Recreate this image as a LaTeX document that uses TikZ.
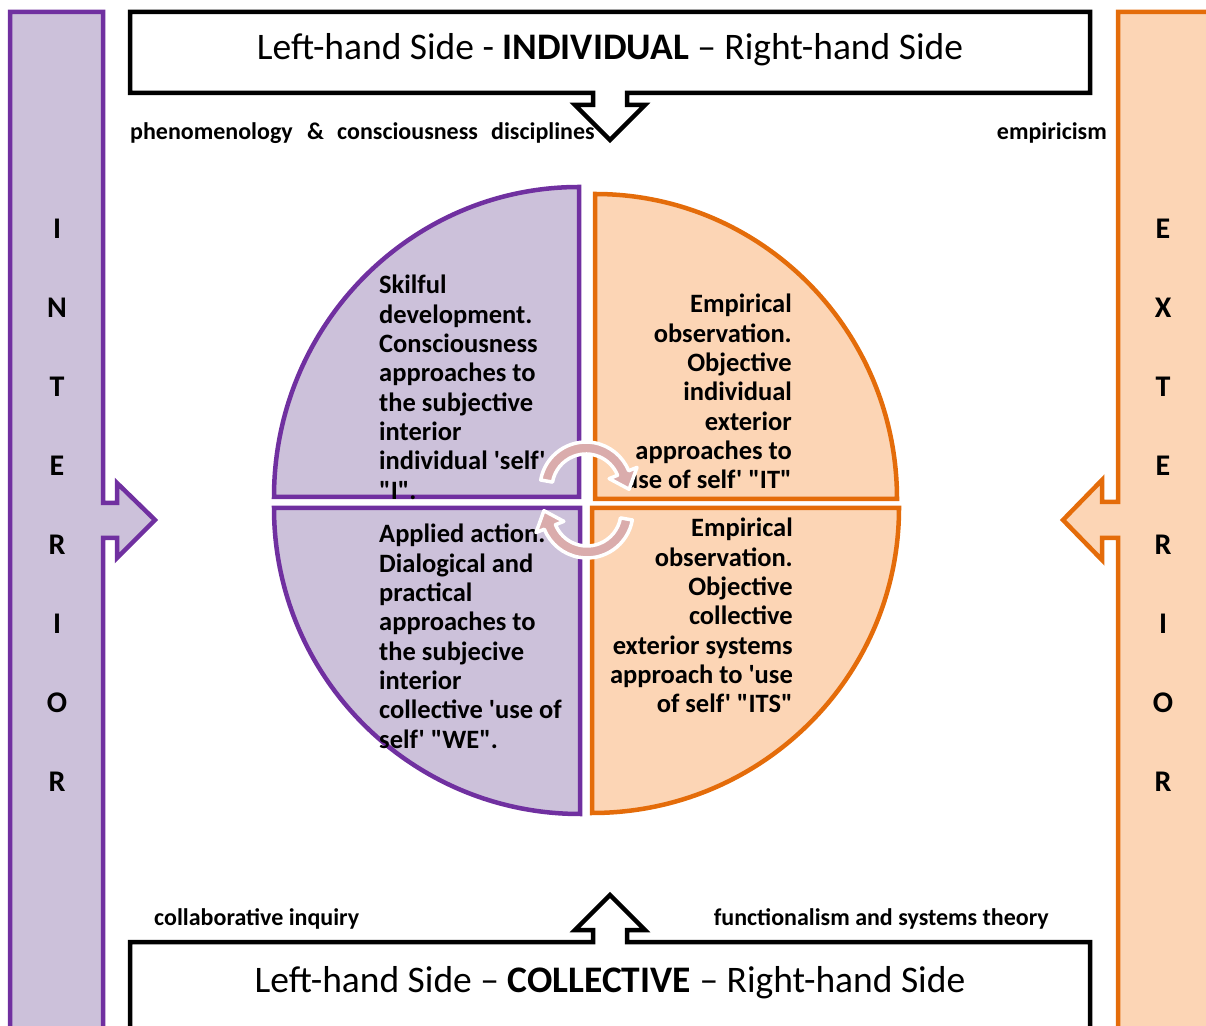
\documentclass[tikz,border=0pt]{standalone}
\usepackage{fontspec}
\newfontfamily\carl{Carlito}
\definecolor{pstroke}{HTML}{7030A0}
\definecolor{pfill}{HTML}{CCC1DA}
\definecolor{ostroke}{HTML}{E46C0A}
\definecolor{ofill}{HTML}{FCD5B5}
\definecolor{cyc}{RGB}{218,172,172}
\begin{document}
\begin{tikzpicture}[x=1pt,y=1pt,line join=miter,
  ishape/.style={draw=pstroke,fill=pfill,line width=4.5pt},
  eshape/.style={draw=ostroke,fill=ofill,line width=4.5pt},
  bbox/.style={draw=black,fill=white,line width=4.5pt},
  cycarrow/.style={fill=cyc,draw=white,line width=3.5pt,line join=round},
  qtext/.style={font=\carl\bfseries\fontsize{26.5}{29.3}\selectfont,inner sep=0pt},
  sideletter/.style={font=\carl\bfseries\fontsize{30}{36}\selectfont,inner sep=0pt},
  titletext/.style={font=\carl\fontsize{37.5}{44}\selectfont,inner sep=0pt},
  lbl/.style={font=\carl\bfseries\fontsize{24}{28}\selectfont,inner sep=0pt}]
\useasboundingbox (0,0) rectangle (1206,1025);
% side bars with arrows
\draw[ishape] (10,-20) -- (10,1013) -- (103,1013) -- (103,522) -- (117,522) -- (117,542) -- (155,505) -- (117,467) -- (117,487) -- (103,487) -- (103,-20) -- cycle;
\draw[eshape] (1118,-20) -- (1118,487) -- (1102,487) -- (1102,465) -- (1063,505) -- (1102,545) -- (1102,523) -- (1118,523) -- (1118,1013) -- (1230,1013) -- (1230,-20) -- cycle;
% top and bottom boxes with arrows
\draw[bbox] (130,1013) -- (1090,1013) -- (1090,932) -- (627,932) -- (627,920) -- (645,920) -- (610,885) -- (575,920) -- (593,920) -- (593,932) -- (130,932) -- cycle;
\draw[bbox] (130,-20) -- (130,83) -- (593,83) -- (593,95) -- (575,95) -- (610,130) -- (645,95) -- (627,95) -- (627,83) -- (1090,83) -- (1090,-20) -- cycle;
% titles
\node[titletext,anchor=base] (toptitle) at (610,965) {Left-hand Side - \textbf{INDIVIDUAL} – Right-hand Side};
\node[titletext,anchor=base] (bottitle) at (610,33) {Left-hand Side – \textbf{COLLECTIVE} – Right-hand Side};
% side letters
\foreach \L [count=\i] in {I,N,T,E,R,I,O,R}
  \node[sideletter] (il\i) at (57,{875-79*\i}) {\L};
\foreach \L [count=\i] in {E,X,T,E,R,I,O,R}
  \node[sideletter] (el\i) at (1163,{875-79*\i}) {\L};
% quadrants
\draw[ishape] (579,528) -- (579,838) arc[start angle=90,end angle=180,x radius=305,y radius=310] -- cycle;
\draw[eshape] (595,526) -- (595,831) arc[start angle=90,end angle=0,x radius=302,y radius=305] -- cycle;
\draw[ishape] (580,517) -- (580,211) arc[start angle=270,end angle=180,x radius=306,y radius=306] -- cycle;
\draw[eshape] (592,517) -- (592,212) arc[start angle=270,end angle=360,x radius=307,y radius=305] -- cycle;
% quadrant texts
\node[qtext,anchor=base west] (tltext) at (379,731) {\parbox[t]{230pt}{\raggedright Skilful\\development.\\Consciousness\\approaches to\\the subjective\\interior\\individual 'self'\\"I".}};
\node[qtext,anchor=base east] (trtext) at (792,712) {\parbox[t]{230pt}{\raggedleft Empirical\\observation.\\Objective\\individual\\exterior\\approaches to\\'use of self' "IT"}};
\node[qtext,anchor=base west] (bltext) at (379,482) {\parbox[t]{230pt}{\raggedright Applied action.\\Dialogical and\\practical\\approaches to\\the subjecive\\interior\\collective 'use of\\self' "WE".}};
\node[qtext,anchor=base east] (brtext) at (793,488) {\parbox[t]{230pt}{\raggedleft Empirical\\observation.\\Objective\\collective\\exterior systems\\approach to 'use\\of self' "ITS"}};
% circular arrows
\begin{scope}[shift={(586,537)}]
\draw[cycarrow] (170:46) arc[start angle=170,end angle=22,radius=46] -- (22:55) -- (43.1,-1.3) -- (22:25) -- (22:34) arc[start angle=22,end angle=170,radius=34] -- cycle;
\end{scope}
\begin{scope}[shift={(587,513)}]
\draw[cycarrow] (-10:46) arc[start angle=-10,end angle=-158,radius=46] -- (-158:55) -- (-43.1,1.3) -- (-158:25) -- (-158:34) arc[start angle=-158,end angle=-10,radius=34] -- cycle;
\end{scope}
% labels
\node[lbl,anchor=base west] (lphen) at (130,885) {phenomenology};
\node[lbl,anchor=base west] (lamp) at (307,885) {\&};
\node[lbl,anchor=base west] (lcons) at (337,885) {consciousness};
\node[lbl,anchor=base west] (ldisc) at (491,885) {disciplines};
\node[lbl,anchor=base east] (lemp) at (1107,885) {empiricism};
\node[lbl,anchor=base west] (lcoll) at (154,100) {collaborative inquiry};
\node[lbl,anchor=base east] (lfunc) at (1049,100) {functionalism and systems theory};
\end{tikzpicture}
\end{document}
